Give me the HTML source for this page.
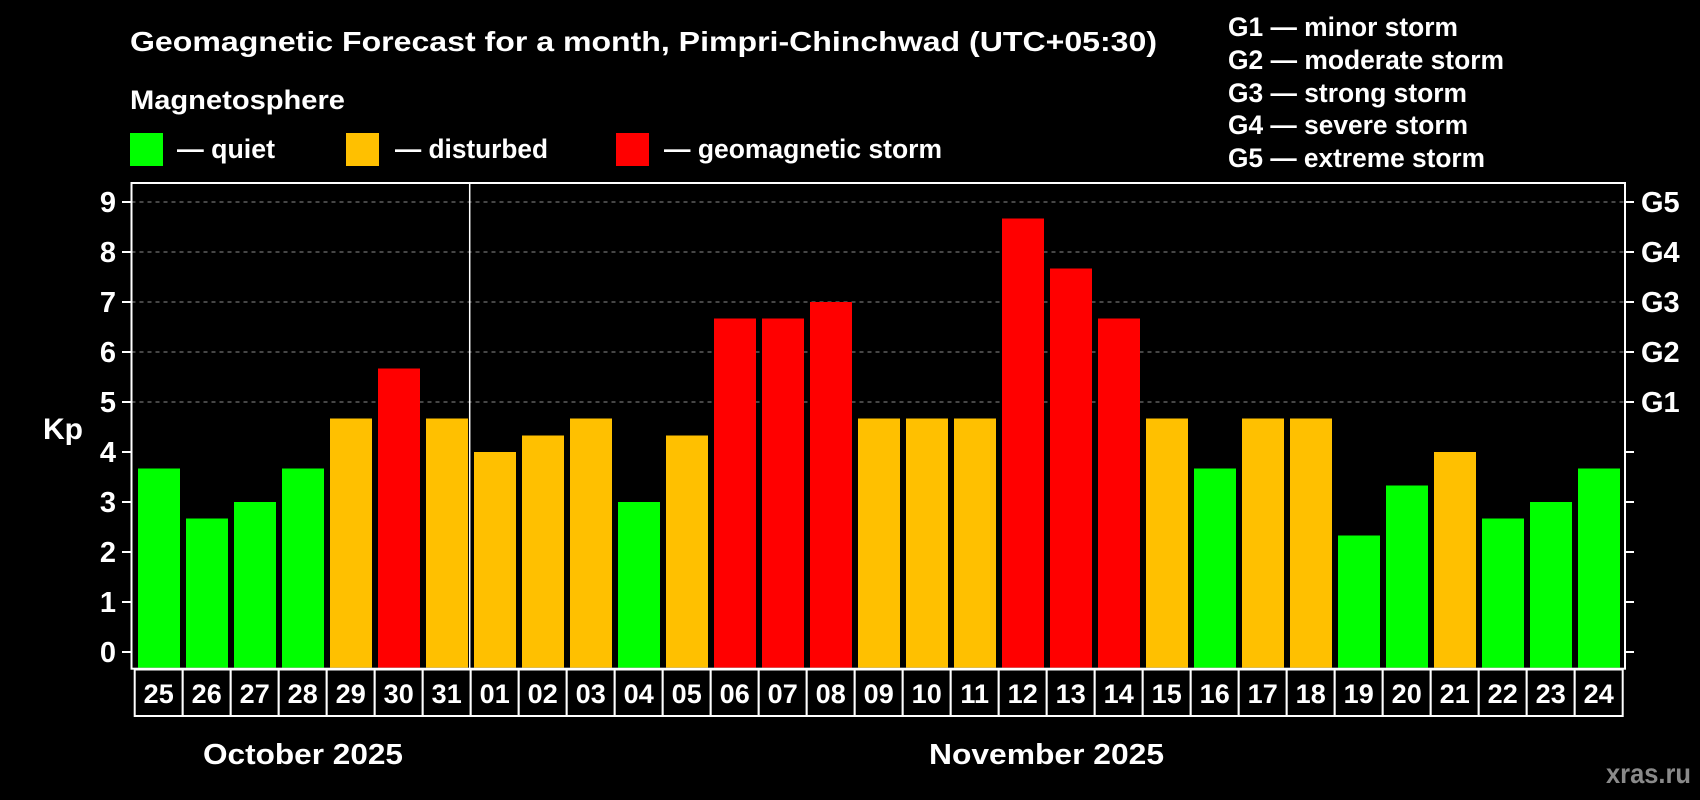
<!DOCTYPE html>
<html><head><meta charset="utf-8"><style>
html,body{margin:0;padding:0;background:#000;}
svg{display:block;font-family:"Liberation Sans",Arial,sans-serif;font-weight:bold;}
</style></head><body>
<svg id="chart" width="1700" height="800" viewBox="0 0 1700 800" xmlns="http://www.w3.org/2000/svg">
<rect x="0" y="0" width="1700" height="800" fill="#000"/>
<text x="130" y="51" fill="#fff" font-size="28" textLength="1027" lengthAdjust="spacingAndGlyphs">Geomagnetic Forecast for a month, Pimpri-Chinchwad (UTC+05:30)</text>
<text x="130" y="109" fill="#fff" font-size="27" textLength="215" lengthAdjust="spacingAndGlyphs">Magnetosphere</text>
<g>
<rect x="130" y="133" width="33" height="33" fill="#00ff00"/>
<text x="177" y="158" fill="#fff" font-size="27" textLength="98" lengthAdjust="spacingAndGlyphs">— quiet</text></g>
<g>
<rect x="346" y="133" width="33" height="33" fill="#ffc000"/>
<text x="395" y="158" fill="#fff" font-size="27" textLength="153" lengthAdjust="spacingAndGlyphs">— disturbed</text></g>
<g>
<rect x="616" y="133" width="33" height="33" fill="#ff0000"/>
<text x="664" y="158" fill="#fff" font-size="27" textLength="278" lengthAdjust="spacingAndGlyphs">— geomagnetic storm</text></g>
<g fill="#fff" font-size="27">
<text x="1228" y="36" textLength="230" lengthAdjust="spacingAndGlyphs">G1 — minor storm</text>
<text x="1228" y="69" textLength="276" lengthAdjust="spacingAndGlyphs">G2 — moderate storm</text>
<text x="1228" y="102" textLength="239" lengthAdjust="spacingAndGlyphs">G3 — strong storm</text>
<text x="1228" y="134" textLength="240" lengthAdjust="spacingAndGlyphs">G4 — severe storm</text>
<text x="1228" y="167" textLength="257" lengthAdjust="spacingAndGlyphs">G5 — extreme storm</text>
</g>
<g id="grid"></g>
<g id="bars"></g>
<g id="axes"></g>
<text x="43" y="439" fill="#fff" font-size="30">Kp</text>
<text x="203" y="764" fill="#fff" font-size="29" textLength="200" lengthAdjust="spacingAndGlyphs">October 2025</text>
<text x="929" y="764" fill="#fff" font-size="29" textLength="235" lengthAdjust="spacingAndGlyphs">November 2025</text>
<text x="1606" y="783" fill="#8a8a8a" font-size="28" textLength="85" lengthAdjust="spacingAndGlyphs">xras.ru</text>
</svg>
<script>
const days = ["25","26","27","28","29","30","31","01","02","03","04","05","06","07","08","09","10","11","12","13","14","15","16","17","18","19","20","21","22","23","24"];
const kpValues = [3.67,2.67,3,3.67,4.67,5.67,4.67,4,4.33,4.67,3,4.33,6.67,6.67,7,4.67,4.67,4.67,8.67,7.67,6.67,4.67,3.67,4.67,4.67,2.33,3.33,4,2.67,3,3.67];
const yTicks = [0,1,2,3,4,5,6,7,8,9];
const gLabels = ["G1","G2","G3","G4","G5"];
const gLevels = [5,6,7,8,9];
const monthBreakIndex = 7;

const NS = "http://www.w3.org/2000/svg";
const plotL = 131.5, plotR = 1625, plotT = 183, plotB = 668.7;
const slotStart = 134.7, slotW = 48;
function yScale(v){ return 652 - v * 50; }
function xSlot(i){ return slotStart + i * slotW; }
function colorFor(v){ return v < 4 ? "#00ff00" : (v < 5 ? "#ffc000" : "#ff0000"); }
function mk(tag, attrs, parent){ const e = document.createElementNS(NS, tag); for (const k in attrs) e.setAttribute(k, attrs[k]); parent.appendChild(e); return e; }

const grid = document.getElementById("grid");
gLevels.forEach(function(v){
  const l = mk("line", {x1: plotL, x2: plotR, y1: yScale(v), y2: yScale(v), stroke: "#8c8c8c", "stroke-width": 1, "stroke-dasharray": "4 4"}, grid);
  
  
});

const bars = document.getElementById("bars");
kpValues.forEach(function(v, i){
  const top = yScale(v);
  const r = mk("rect", {x: xSlot(i) + 3.3, y: top, width: 42, height: plotB - 1 - top, fill: colorFor(v)}, bars);
  
  
});

const axes = document.getElementById("axes");
const frame = mk("rect", {x: plotL, y: plotT, width: plotR - plotL, height: plotB - plotT, fill: "none", stroke: "#fff", "stroke-width": 2}, axes);


const sep = mk("line", {x1: xSlot(monthBreakIndex) - 1, x2: xSlot(monthBreakIndex) - 1, y1: plotT, y2: plotB, stroke: "#fff", "stroke-width": 1.5}, axes);


yTicks.forEach(function(t){
  const y = yScale(t);
  mk("line", {x1: 122, x2: plotL, y1: y, y2: y, stroke: "#fff", "stroke-width": 2}, axes);
  mk("line", {x1: plotR, x2: 1634, y1: y, y2: y, stroke: "#fff", "stroke-width": 2}, axes);
  const tx = mk("text", {x: 116, y: y + 10, fill: "#fff", "font-size": 29, "text-anchor": "end"}, axes);
  tx.textContent = String(t);
  
  
});
gLevels.forEach(function(v, i){
  const tx = mk("text", {x: 1641, y: yScale(v) + 10, fill: "#fff", "font-size": 29}, axes);
  tx.textContent = gLabels[i];
  
  
});
const boxTop = 669.5, boxBot = 716;
days.forEach(function(d, i){
  const bx = mk("rect", {x: xSlot(i), y: boxTop, width: slotW, height: boxBot - boxTop, fill: "#000", stroke: "#fff", "stroke-width": 2}, axes);
  
  
  const tx = mk("text", {x: xSlot(i) + slotW / 2, y: 703, fill: "#fff", "font-size": 27, "text-anchor": "middle"}, axes);
  tx.textContent = d;
  
  
});
</script>
</body></html>
